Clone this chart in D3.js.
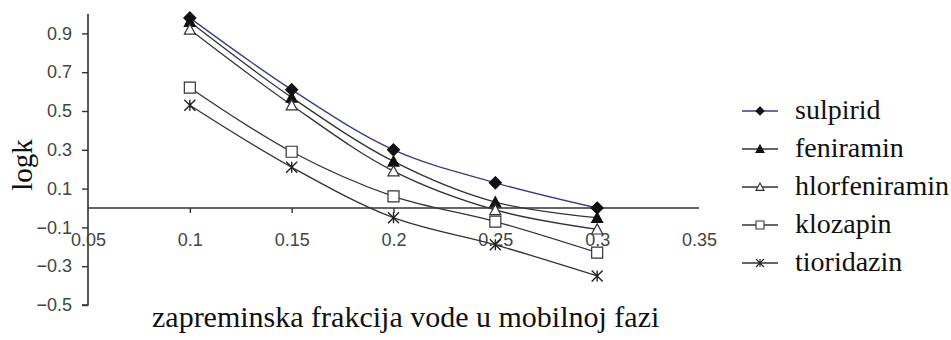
<!DOCTYPE html>
<html>
<head>
<meta charset="utf-8">
<script src="https://cdn.jsdelivr.net/npm/d3@7"></script>
<style>
  html, body { margin: 0; padding: 0; background: #fff; }
  svg { display: block; }
</style>
</head>
<body>
<svg id="chart" width="951" height="340"></svg>
<script>
// Water fraction in the mobile phase (x) and logk for each compound
const fractions = [0.1, 0.15, 0.2, 0.25, 0.3];
const sulpirid      = [0.98, 0.61, 0.30, 0.13, 0.00];
const feniramin     = [0.96, 0.57, 0.24, 0.03, -0.05];
const hlorfeniramin = [0.92, 0.53, 0.19, -0.01, -0.11];
const klozapin      = [0.62, 0.29, 0.06, -0.07, -0.23];
const tioridazin    = [0.53, 0.21, -0.05, -0.19, -0.35];

const seriesNames = ["sulpirid", "feniramin", "hlorfeniramin", "klozapin", "tioridazin"];
const xTicks = [0.05, 0.1, 0.15, 0.2, 0.25, 0.3, 0.35];
const yTicks = [-0.5, -0.3, -0.1, 0.1, 0.3, 0.5, 0.7, 0.9];

const seriesValues = [sulpirid, feniramin, hlorfeniramin, klozapin, tioridazin];
const seriesStyle = [
  { marker: "diamond",  fill: "#111", stroke: "#111", line: "#3c3c8a" },
  { marker: "triangle", fill: "#111", stroke: "#111", line: "#333" },
  { marker: "triangle", fill: "#fff", stroke: "#333", line: "#333" },
  { marker: "square",   fill: "#fff", stroke: "#333", line: "#333" },
  { marker: "star",     fill: "none", stroke: "#222", line: "#333" }
];

const SERIF = "'Liberation Serif', 'Times New Roman', serif";
const SANS = "'Liberation Sans', Arial, sans-serif";

const svg = d3.select("#chart");

const x = d3.scaleLinear().domain([0.05, 0.35]).range([88, 699]);
const y = d3.scaleLinear().domain([-0.5, 1.0]).range([305, 14]);

// marker shapes
function markerPath(type, s) {
  const h = s / 2;
  if (type === "diamond") return `M0,${-h}L${h},0L0,${h}L${-h},0Z`;
  if (type === "triangle") return `M0,${-h}L${h},${h * 0.85}L${-h},${h * 0.85}Z`;
  if (type === "square") return `M${-h},${-h}H${h}V${h}H${-h}Z`;
  if (type === "star") return `M${-h},${-h}L${h},${h}M${h},${-h}L${-h},${h}M0,${-h}V${h}`;
  return "";
}

// y axis
const yAxis = svg.append("g")
  .attr("transform", `translate(${x(0.05)},0)`)
  .call(d3.axisLeft(y).tickValues(yTicks).tickSize(6).tickPadding(10)
    .tickFormat(d3.format("")));
yAxis.attr("font-family", SANS);
yAxis.select(".domain").attr("d", `M0,${y(1.0)}V${y(-0.5)}H-6`).attr("stroke", "#333").attr("stroke-width", 1.6);
yAxis.selectAll(".tick line").attr("stroke", "#333").attr("stroke-width", 1.4);
yAxis.selectAll(".tick text").attr("font-size", 18).attr("fill", "#444");

// x axis crossing at logk = 0
const xAxis = svg.append("g")
  .attr("transform", `translate(0,${y(0)})`)
  .call(d3.axisBottom(x).tickValues(xTicks).tickSize(5).tickPadding(20)
    .tickFormat(d3.format("")));
xAxis.attr("font-family", SANS);
xAxis.select(".domain").attr("d", `M${x(0.05)},0H${x(0.35)}`).attr("stroke", "#333").attr("stroke-width", 1.6);
xAxis.selectAll(".tick line").attr("stroke", "#333").attr("stroke-width", 1.4)
  .filter(d => d === 0.05 || d === 0.35).remove();
xAxis.selectAll(".tick text").attr("font-size", 18).attr("fill", "#444");

// series lines and markers
const line = d3.line()
  .x((d, i) => x(fractions[i]))
  .y(d => y(d))
  .curve(d3.curveCatmullRom.alpha(0.5));

seriesValues.forEach((vals, k) => {
  const st = seriesStyle[k];
  svg.append("path")
    .attr("d", line(vals))
    .attr("fill", "none")
    .attr("stroke", st.line)
    .attr("stroke-width", 1.3);
});

seriesValues.forEach((vals, k) => {
  const st = seriesStyle[k];
  svg.append("g").selectAll("path")
    .data(vals)
    .join("path")
    .attr("transform", (d, i) => `translate(${x(fractions[i])},${y(d)})`)
    .attr("d", markerPath(st.marker, st.marker === "diamond" ? 12 : 11))
    .attr("fill", st.fill)
    .attr("stroke", st.stroke)
    .attr("stroke-width", st.marker === "star" ? 1.4 : 1.2);
});

// axis titles
svg.append("text")
  .attr("font-family", SERIF)
  .attr("fill", "#111")
  .attr("x", 152).attr("y", 327)
  .attr("font-size", 30)
  .text("zapreminska frakcija vode u mobilnoj fazi");

svg.append("text")
  .attr("font-family", SERIF)
  .attr("fill", "#111")
  .attr("transform", "translate(32,165) rotate(-90)")
  .attr("text-anchor", "middle")
  .attr("font-size", 29)
  .text("logk");

// legend
const legend = svg.append("g");
const legendY = d3.scalePoint().domain(seriesNames).range([111, 263]);
seriesNames.forEach((name, k) => {
  const st = seriesStyle[k];
  const g = legend.append("g").attr("transform", `translate(0,${legendY(name)})`);
  g.append("line").attr("x1", 742).attr("x2", 778).attr("y1", 0).attr("y2", 0)
    .attr("stroke", st.line).attr("stroke-width", 1.4);
  g.append("path").attr("transform", "translate(760,0)")
    .attr("d", markerPath(st.marker, 8))
    .attr("fill", st.fill).attr("stroke", st.stroke).attr("stroke-width", 1.1);
  g.append("text")
    .attr("font-family", SERIF)
    .attr("fill", "#111")
    .attr("x", 795).attr("y", 0).attr("dy", "0.3em")
    .attr("font-size", 28)
    .text(name);
});
</script>
</body>
</html>
